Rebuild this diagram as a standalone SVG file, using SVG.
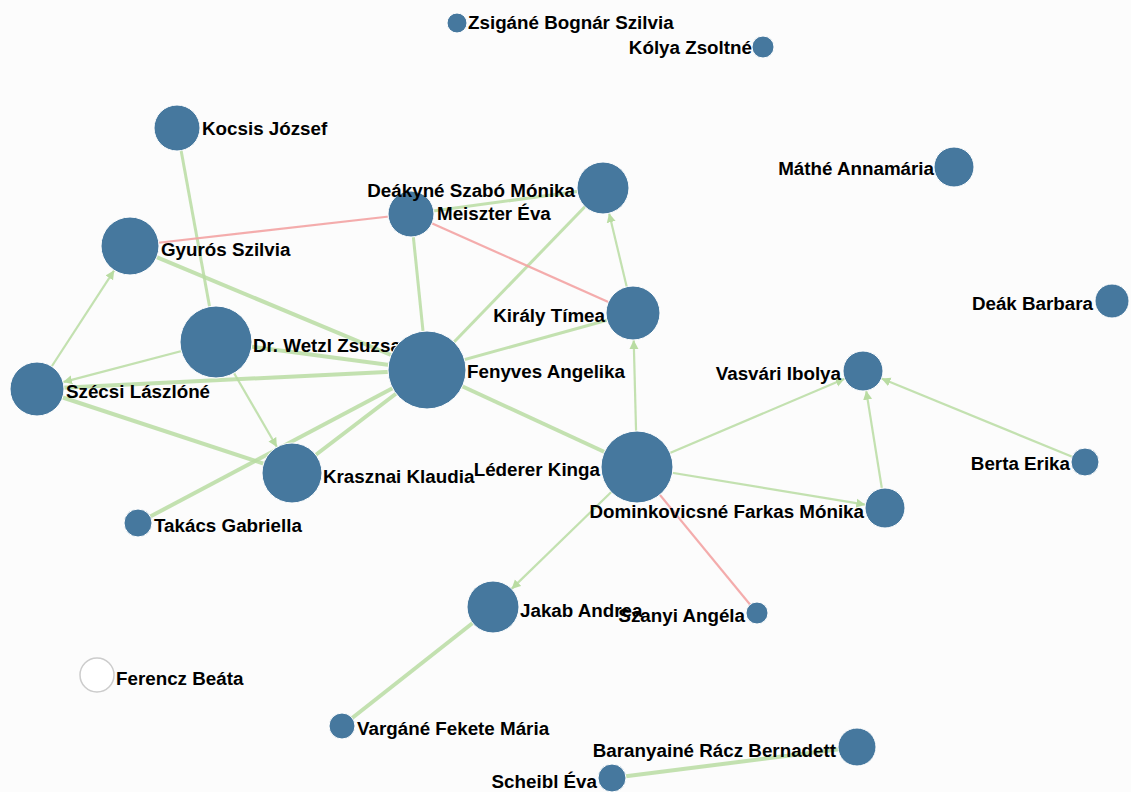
<svg xmlns="http://www.w3.org/2000/svg" width="1131" height="792" viewBox="0 0 1131 792">
<style>
.bg{fill:#fcfcfc}
.e{stroke:#b9dca2;stroke-opacity:0.85;fill:none}
.t{stroke-width:4}
.m{stroke-width:3}
.d{stroke-width:2.2}
.r{stroke:#f3a3a3;stroke-opacity:0.9;stroke-width:2.2;fill:none}
.n{fill:#46789e;stroke:#ffffff;stroke-width:1}
.w{fill:#ffffff;stroke:#cccccc;stroke-width:1.5}
text{font-family:"Liberation Sans",Arial,Helvetica,sans-serif;font-weight:bold;font-size:18.8px;fill:#000000}
.end{text-anchor:end}
</style>
<defs>
<marker id="arr" viewBox="0 -5 10 10" refX="9" refY="0" markerWidth="10" markerHeight="10" markerUnits="userSpaceOnUse" orient="auto">
<path d="M0,-4.5L9,0L0,4.5Z" fill="#b9dca2"/>
</marker>
</defs>
<rect class="bg" x="0" y="0" width="1131" height="792"/>
<g id="connectors">
<line class="e m" x1="177" y1="128" x2="216" y2="342"/>
<line class="e t" x1="130" y1="246" x2="427" y2="370"/>
<line class="e m" x1="411" y1="214" x2="427" y2="370"/>
<line class="e m" x1="603" y1="188" x2="427" y2="370"/>
<line class="e m" x1="411" y1="214" x2="603" y2="188"/>
<line class="e m" x1="427" y1="370" x2="633" y2="313"/>
<line class="e t" x1="427" y1="370" x2="637" y2="467"/>
<line class="e t" x1="216" y1="342" x2="427" y2="370"/>
<line class="e t" x1="37" y1="389" x2="427" y2="370"/>
<line class="e t" x1="37" y1="389" x2="292" y2="473"/>
<line class="e t" x1="427" y1="370" x2="292" y2="473"/>
<line class="e t" x1="427" y1="370" x2="138" y2="523"/>
<line class="e t" x1="493" y1="607" x2="342" y2="726"/>
<line class="e t" x1="857" y1="747" x2="612" y2="778"/>
<line class="e d" x1="37" y1="389" x2="114.2" y2="270.3" marker-end="url(#arr)"/>
<line class="e d" x1="216" y1="342" x2="63.1" y2="382.1" marker-end="url(#arr)"/>
<line class="e d" x1="216" y1="342" x2="276.9" y2="447" marker-end="url(#arr)"/>
<line class="e d" x1="633" y1="313" x2="609.1" y2="213.3" marker-end="url(#arr)"/>
<line class="e d" x1="637" y1="467" x2="633.7" y2="340" marker-end="url(#arr)"/>
<line class="e d" x1="637" y1="467" x2="844.6" y2="378.8" marker-end="url(#arr)"/>
<line class="e d" x1="637" y1="467" x2="865.3" y2="504.7" marker-end="url(#arr)"/>
<line class="e d" x1="885" y1="508" x2="866.2" y2="390.7" marker-end="url(#arr)"/>
<line class="e d" x1="1085" y1="462" x2="881.5" y2="378.6" marker-end="url(#arr)"/>
<line class="e d" x1="637" y1="467" x2="511.6" y2="588.9" marker-end="url(#arr)"/>
<line class="r" x1="130" y1="246" x2="411" y2="214"/>
<line class="r" x1="411" y1="214" x2="633" y2="313"/>
<line class="r" x1="637" y1="467" x2="757" y2="613"/>
</g>
<g id="node-zsigane"><circle class="n" cx="457" cy="23" r="10"/><text x="468" y="29">Zsigáné Bognár Szilvia</text></g>
<g id="node-kolya"><circle class="n" cx="763" cy="47" r="11"/><text class="end" x="752" y="54">Kólya Zsoltné</text></g>
<g id="node-kocsis"><circle class="n" cx="177" cy="128" r="23"/><text x="202" y="135">Kocsis József</text></g>
<g id="node-meiszter"><circle class="n" cx="411" cy="214" r="23"/><text x="437" y="220">Meiszter Éva</text></g>
<g id="node-deakyne"><circle class="n" cx="603" cy="188" r="26"/><text class="end" x="575" y="197">Deákyné Szabó Mónika</text></g>
<g id="node-mathe"><circle class="n" cx="954" cy="167" r="20"/><text class="end" x="934" y="175">Máthé Annamária</text></g>
<g id="node-gyuros"><circle class="n" cx="130" cy="246" r="29"/><text x="161" y="256">Gyurós Szilvia</text></g>
<g id="node-kiraly"><circle class="n" cx="633" cy="313" r="27"/><text class="end" x="605" y="322">Király Tímea</text></g>
<g id="node-deak"><circle class="n" cx="1112" cy="301" r="17"/><text class="end" x="1093" y="310">Deák Barbara</text></g>
<g id="node-wetzl"><circle class="n" cx="216" cy="342" r="36"/><text x="253" y="352">Dr. Wetzl Zsuzsa</text></g>
<g id="node-fenyves"><circle class="n" cx="427" cy="370" r="39"/><text x="467" y="378">Fenyves Angelika</text></g>
<g id="node-vasvari"><circle class="n" cx="863" cy="371" r="20"/><text class="end" x="841" y="380">Vasvári Ibolya</text></g>
<g id="node-szecsi"><circle class="n" cx="37" cy="389" r="27"/><text x="66" y="398">Szécsi Lászlóné</text></g>
<g id="node-krasznai"><circle class="n" cx="292" cy="473" r="30"/><text x="323" y="483">Krasznai Klaudia</text></g>
<g id="node-lederer"><circle class="n" cx="637" cy="467" r="36"/><text class="end" x="600" y="476">Léderer Kinga</text></g>
<g id="node-berta"><circle class="n" cx="1085" cy="462" r="14"/><text class="end" x="1070" y="470">Berta Erika</text></g>
<g id="node-dominkovicsne"><circle class="n" cx="885" cy="508" r="20"/><text class="end" x="864" y="518">Dominkovicsné Farkas Mónika</text></g>
<g id="node-takacs"><circle class="n" cx="138" cy="523" r="14"/><text x="154" y="532">Takács Gabriella</text></g>
<g id="node-jakab"><circle class="n" cx="493" cy="607" r="26"/><text x="520" y="617">Jakab Andrea</text></g>
<g id="node-szanyi"><circle class="n" cx="757" cy="613" r="11"/><text class="end" x="745" y="622">Szanyi Angéla</text></g>
<g id="node-ferencz"><circle class="w" cx="97" cy="675" r="17"/><text x="116" y="685">Ferencz Beáta</text></g>
<g id="node-vargane"><circle class="n" cx="342" cy="726" r="13"/><text x="357" y="735">Vargáné Fekete Mária</text></g>
<g id="node-baranyaine"><circle class="n" cx="857" cy="747" r="19"/><text class="end" x="836" y="757">Baranyainé Rácz Bernadett</text></g>
<g id="node-scheibl"><circle class="n" cx="612" cy="778" r="14"/><text class="end" x="597" y="788">Scheibl Éva</text></g>
</svg>
